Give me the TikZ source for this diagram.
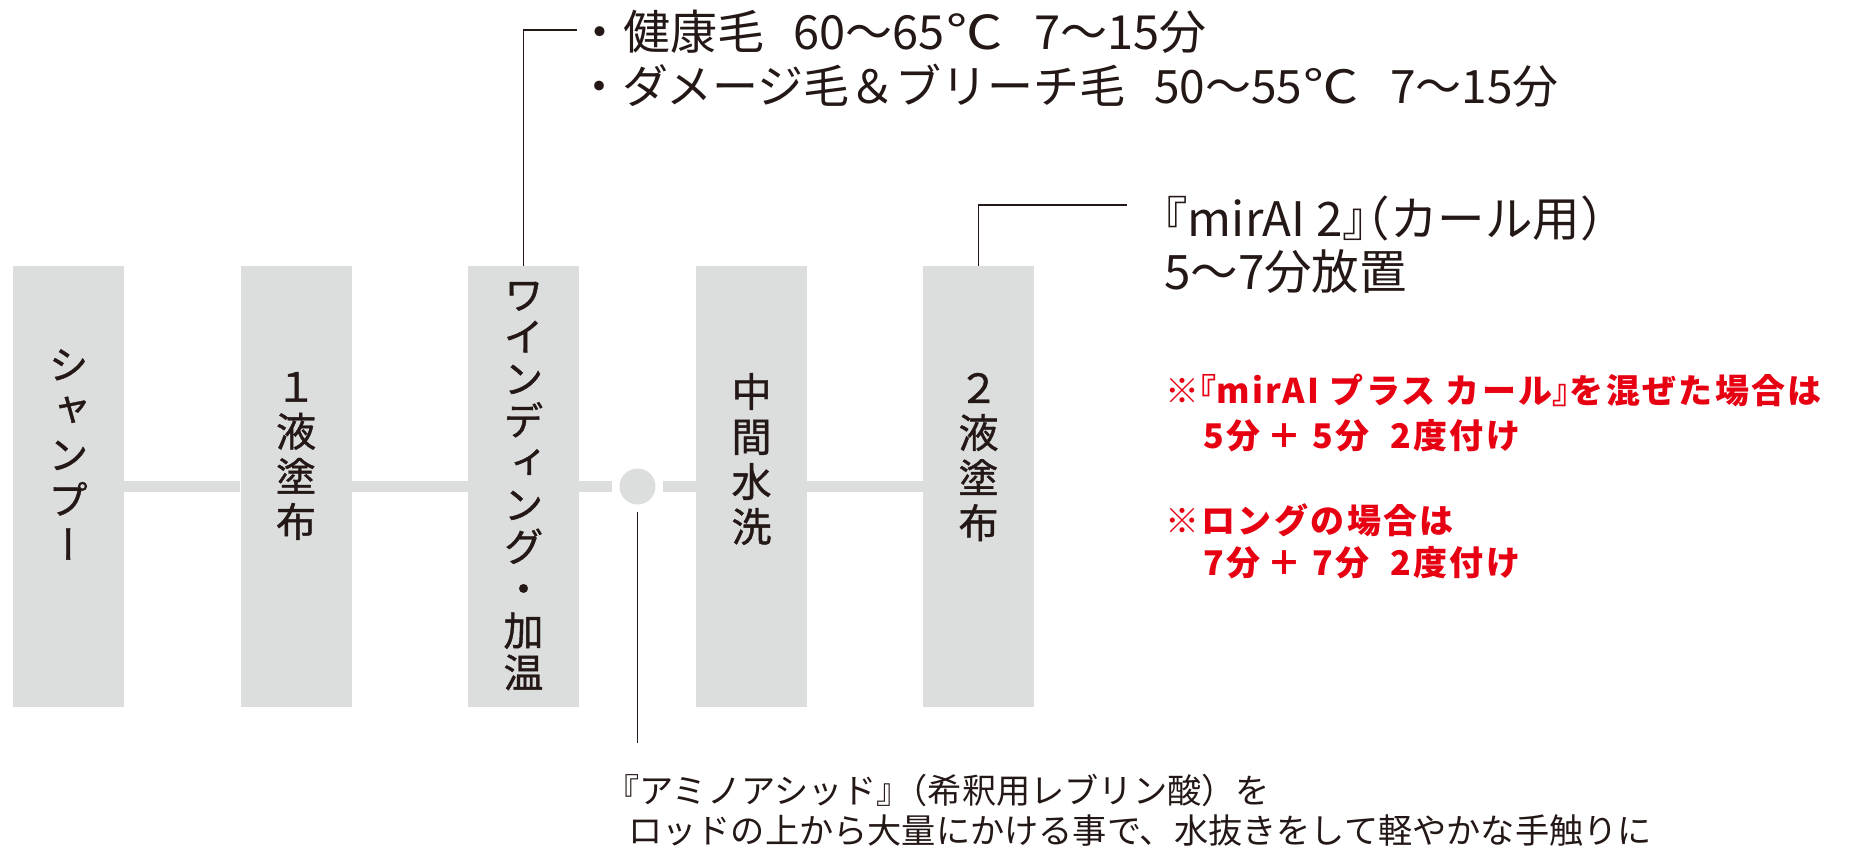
\documentclass[tikz,border=0pt]{standalone}
\usepackage{graphicx}
\usepackage{fontspec}
\setmainfont{Noto Sans CJK JP}
\newfontfamily\jpv{Noto Sans CJK JP}[RawFeature=+vert, FakeBold=1]
\newcommand\hb[1]{{\addfontfeature{RawFeature=+halt}#1}}
\newcommand\celsius{\hspace{0.03em}\scalebox{1.2}[1]{℃}}
\definecolor{boxgray}{HTML}{DCDDDD}
\definecolor{inkc}{HTML}{231815}
\definecolor{myred}{HTML}{E60012}
\tikzset{
  stepbox/.style={fill=boxgray, draw=none, minimum width=111pt, minimum height=441pt, inner sep=0pt},
  vlabel/.style={inner sep=0pt, align=center, text=inkc, font=\jpv\fontsize{40}{45}\selectfont},
  flow/.style={draw=boxgray, line width=11pt},
  lead/.style={draw=inkc, line width=1.3pt},
  txt/.style={inner sep=0pt, anchor=west, text=inkc},
  bigtxt/.style={txt, font=\fontsize{47}{53}\selectfont},
  midtxt/.style={txt, font=\fontsize{47.5}{53}\selectfont},
  smalltxt/.style={txt, font=\fontsize{34.2}{40}\selectfont},
  redtxt/.style={txt, text=myred, font=\bfseries\fontsize{34}{40}\selectfont\addfontfeature{LetterSpace=7}},
}
\begin{document}
\begin{tikzpicture}[x=1pt,y=1pt]
\useasboundingbox (0,0) rectangle (1849,-846);
% boxes
\node[stepbox] (b1) at (68.5,-486.5) {};
\node[stepbox] (b2) at (296,-486.5) {};
\node[stepbox] (b3) at (523.5,-486.5) {};
\node[stepbox] (b4) at (751.5,-486.5) {};
\node[stepbox] (b5) at (978.5,-486.5) {};
\node[circle, fill=boxgray, draw=none, minimum size=36pt, inner sep=0pt] (c) at (637.5,-486.5) {};
% flow line
\draw[flow] (b1.east) -- (b2.west);
\draw[flow] (b2.east) -- (b3.west);
\draw[flow, shorten >=7pt] (b3.east) -- (c.west);
\draw[flow, shorten <=7pt] (c.east) -- (b4.west);
\draw[flow] (b4.east) -- (b5.west);
% labels
\node[vlabel] (l1) at (68.5,-454.5) {シ\\ャ\\ン\\プ\\ー};
\node[vlabel] (l2) at (296,-456) {１\\液\\塗\\布};
\node[vlabel, font=\jpv\fontsize{40}{42}\selectfont] (l3) at (523.5,-486) {ワ\\イ\\ン\\デ\\ィ\\ン\\グ\\・\\加\\温};
\node[vlabel] (l4) at (751.5,-459) {中\\間\\水\\洗};
\node[vlabel] (l5) at (978.5,-457) {２\\液\\塗\\布};
% leads
\coordinate (tend) at (577,-30);
\draw[lead] (b3.north) |- (tend);
\coordinate (mend) at (1127,-205);
\draw[lead] (b5.north) |- (mend);
\coordinate (cend) at (637.5,-743);
\draw[lead, shorten <=7pt] (c.south) -- (cend);
% top text
\node[bigtxt] (t1) at (576,-32) {・健康毛\hspace{0.62em}60〜65\celsius\hspace{0.68em}7〜15分};
\node[bigtxt, font=\fontsize{46}{53}\selectfont] (t2) at (576,-86) {・ダメージ毛＆ブリーチ毛\hspace{0.62em}50〜55\celsius\hspace{0.68em}7〜15分};
% mirAI text
\node[midtxt] (m1) at (1164,-218) {\hb{『}mirAI 2\hb{』}\hb{（}カール用\hb{）}};
\node[midtxt] (m2) at (1164,-272) {5〜7分放置};
% red notes
\node[redtxt] (r1) at (1165,-390) {※\hb{『}mirAI プラス カール\hb{』}を混ぜた場合は};
\node[redtxt] (r2) at (1203,-436) {5分\hspace{7pt}＋\hspace{11pt}5分\hspace{21pt}2度付け};
\node[redtxt] (r3) at (1165,-520) {※ロングの場合は};
\node[redtxt] (r4) at (1203,-563) {7分\hspace{7pt}＋\hspace{11pt}7分\hspace{21pt}2度付け};
% bottom text
\node[smalltxt] (a1) at (622,-790) {\hb{『}アミノアシッド\hb{』}（希釈用レブリン酸）を};
\node[smalltxt] (a2) at (628,-831) {ロッドの上から大量にかける事で、水抜きをして軽やかな手触りに};
\end{tikzpicture}
\end{document}
